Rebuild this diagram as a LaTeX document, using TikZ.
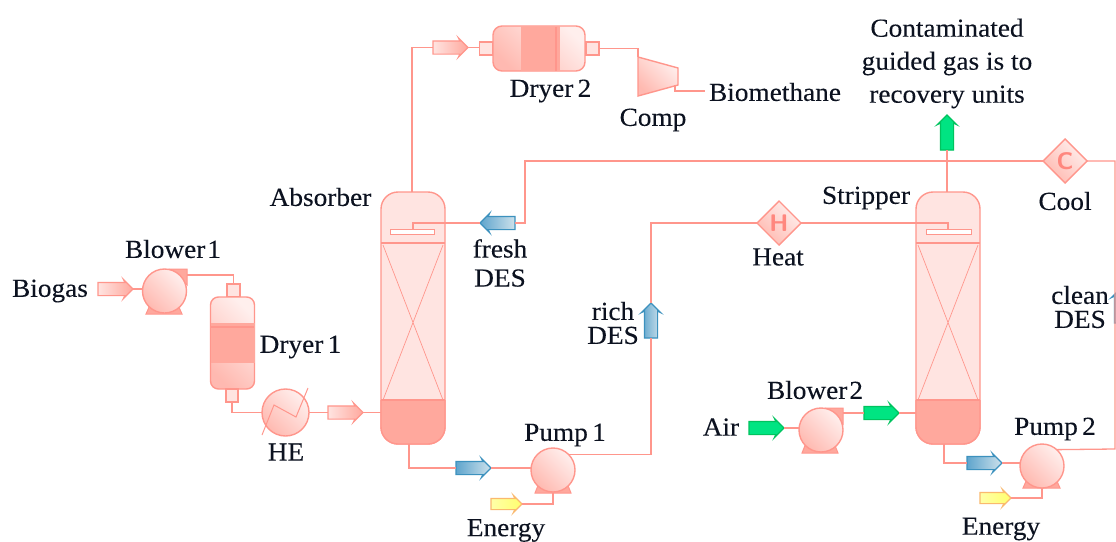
\documentclass[tikz,border=0pt]{standalone}
\usepackage{fontspec}
\setmainfont[FakeStretch=1.05,FakeBold=0.15]{Liberation Serif}
\usetikzlibrary{shapes.geometric,shapes.arrows}
\definecolor{pipepink}{RGB}{255,150,140}
\definecolor{salmon}{RGB}{255,168,157}
\definecolor{palepink}{RGB}{255,228,225}
\definecolor{inkdark}{RGB}{12,18,32}
\definecolor{desedge}{RGB}{60,145,190}
\definecolor{desdark}{RGB}{95,165,205}
\definecolor{deslight}{RGB}{205,225,235}
\definecolor{airedge}{RGB}{0,195,95}
\definecolor{airfill}{RGB}{0,228,130}
\definecolor{poweredge}{RGB}{250,185,110}
\definecolor{powerfill}{RGB}{255,255,110}
\tikzset{
  pipe/.style={draw=pipepink,line width=1.3pt,line join=miter},
  equip/.style={draw=pipepink,line width=1.4pt,left color=palepink!60!white,right color=salmon!80!white,shading angle=-45,inner sep=0pt,outer sep=0pt},
  pumpbody/.style={equip,circle,minimum size=44pt},
  nozzle/.style={draw=pipepink,line width=1.2pt,fill=palepink,inner sep=0pt,outer sep=0pt},
  tower/.style={draw=pipepink,line width=1.4pt,fill=palepink,rounded corners=17pt,minimum width=64pt,minimum height=252pt,inner sep=0pt,outer sep=0pt},
  cooler/.style={equip,diamond,aspect=1,minimum size=44pt,text=pipepink!90!red,font=\sffamily\bfseries\fontsize{24}{25}\selectfont},
  stream/.style={single arrow,anchor=tail,minimum height=35pt,inner sep=6pt,single arrow head extend=3pt,single arrow head indent=1.5pt,outer sep=0pt,line width=1.2pt},
  gasstream/.style={stream,draw=pipepink,left color=palepink,right color=salmon},
  desstream/.style={stream,draw=desedge,left color=desdark,right color=deslight},
  airstream/.style={stream,draw=airedge,fill=airfill},
  powerstream/.style={stream,minimum height=31pt,inner sep=5pt,draw=poweredge,left color=powerfill!60!white,right color=powerfill},
  tag/.style={inner sep=0pt,outer sep=0pt,text=inkdark,font=\fontsize{26}{30}\selectfont,align=center}
}
\begin{document}
\begin{tikzpicture}[x=1pt,y=-1pt]
\clip (0,0) rectangle (1116,541);
\path[fill=white] (0,0) rectangle (1116,541);
\node[tag] (biogasTag) at (50,291) {Biogas};
\node[gasstream] (biogasIn) at (98,289) {};
\path[fill=salmon,draw=pipepink,line width=1pt] (150,305) -- (146,314) -- (182,314) -- (178,305) -- cycle;
\path[fill=salmon,draw=pipepink,line width=1pt] (170,269) -- (187,269) -- (187,285) -- cycle;
\node[pumpbody] (blowerA) at (164.5,291) {};
\node[tag] (blowerATag) at (173,249) {Blower\hspace{2pt}1};
\node[nozzle,minimum width=13pt,minimum height=13pt] (dryerAin) at (233.5,290.5) {};
\node[equip,rounded corners=8pt,minimum width=44pt,minimum height=92pt] (dryerA) at (232.5,343) {};
\path[fill=salmon,draw=salmon,line width=.8pt] (211,323.5) rectangle (254,362);
\draw[pipe] (211,327) -- (254,327);
\node[nozzle,minimum width=12pt,minimum height=13pt] (dryerAout) at (232,395.5) {};
\node[tag] (dryerATag) at (300.5,347) {Dryer\,1};
\node[pumpbody,minimum size=47pt] (exchanger) at (285.5,412.5) {};
\draw[pipe,line width=1pt] (262,435) -- (274,405) -- (296,417) -- (308,388);
\node[tag] (exchangerTag) at (286,452) {HE};
\node[gasstream] (feedIn) at (328,412.5) {};
\node[tower] (absorber) at (413,318) {};
\draw[pipe] (381,243) -- (445,243);
\draw[pipe,line width=.7pt] (383,245) -- (443,400) (443,245) -- (383,400);
\path[fill=salmon,draw=pipepink,line width=1.4pt,rounded corners=17pt] (381,400) -- (381,444) -- (445,444) -- (445,400);
\draw[pipe] (381,400) -- (445,400);
\path[fill=white,draw=pipepink,line width=1pt] (390,229) rectangle (434,234);
\node[tag] (absorberTag) at (320.5,197) {Absorber};
\node[desstream,shape border rotate=180] (freshDes) at (515,223) {};
\node[tag] (freshTag) at (500,263) {fresh\\[-1pt]DES};
\node[desstream] (absorberBot) at (456,468) {};
\path[fill=salmon,draw=pipepink,line width=1pt] (539,483) -- (535,493) -- (571,493) -- (567,483) -- cycle;
\node[pumpbody] (pumpA) at (553,470) {};
\node[tag] (pumpATag) at (565,435) {Pump\,1};
\node[powerstream] (powerA) at (491,504) {};
\node[tag] (powerATag) at (506,530.5) {Energy};
\node[desstream,shape border rotate=90] (richDes) at (651,338) {};
\node[tag] (richTag) at (613,323) {rich\\[-6pt]DES};
\node[gasstream] (overhead) at (433,47.5) {};
\node[nozzle,minimum width=13pt,minimum height=13pt] (dryerBin) at (486,48.5) {};
\node[equip,rounded corners=9pt,minimum width=92pt,minimum height=45pt] (dryerB) at (539,48.5) {};
\path[fill=salmon,draw=salmon,line width=.8pt] (521,26.5) rectangle (559,70.5);
\draw[pipe] (556,26.5) -- (556,70.5);
\node[nozzle,minimum width=13pt,minimum height=13pt] (dryerBout) at (592.5,48.5) {};
\node[tag] (dryerBTag) at (550.5,91) {Dryer\,2};
\coordinate (compIn) at (638,57);
\coordinate (compOut) at (675,85);
\coordinate (methaneIn) at (705,91);
\path[equip] (638,57) -- (678,68) -- (678,85) -- (638,96) -- cycle;
\node[tag] (compTag) at (653,120) {Comp};
\node[tag] (methaneTag) at (775,92) {Biomethane};
\node[cooler] (heater) at (779,223) {H};
\node[tag] (heaterTag) at (778,257) {Heat};
\node[cooler] (coolerC) at (1065,161) {C};
\node[tag] (coolerTag) at (1065,201) {Cool};
\node[tower] (stripper) at (948,318) {};
\draw[pipe] (916,243) -- (980,243);
\draw[pipe,line width=.7pt] (918,245) -- (978,400) (978,245) -- (918,400);
\path[fill=salmon,draw=pipepink,line width=1.4pt,rounded corners=17pt] (916,400) -- (916,444) -- (980,444) -- (980,400);
\draw[pipe] (916,400) -- (980,400);
\path[fill=white,draw=pipepink,line width=1pt] (926,229) rectangle (971,234);
\node[tag] (stripperTag) at (866,198) {Stripper};
\node[airstream,shape border rotate=90] (ventOut) at (947,150) {};
\node[tag] (ventTag) at (947,63.5) {Contaminated\\[3pt]guided gas is to\\[3pt]recovery units};
\node[tag] (airTag) at (721,427) {Air};
\node[airstream] (airIn) at (749,428) {};
\path[fill=salmon,draw=pipepink,line width=1pt] (806,443) -- (802,453) -- (838,453) -- (834,443) -- cycle;
\path[fill=salmon,draw=pipepink,line width=1pt] (826,408) -- (843,408) -- (843,424) -- cycle;
\node[pumpbody] (blowerB) at (821,430) {};
\node[tag] (blowerBTag) at (815,390) {Blower\hspace{2pt}2};
\node[airstream] (airOut) at (864,413) {};
\node[desstream] (stripperBot) at (967,463) {};
\path[fill=salmon,draw=pipepink,line width=1pt] (1027,479) -- (1023,488) -- (1060,488) -- (1056,479) -- cycle;
\node[pumpbody] (pumpB) at (1042,466) {};
\node[tag] (pumpBTag) at (1055,429) {Pump\,2};
\node[powerstream] (powerB) at (980,498) {};
\node[tag] (powerBTag) at (1001,529) {Energy};
\node[desstream,shape border rotate=90] (cleanDes) at (1121,323) {};
\node[tag] (cleanTag) at (1080,307) {clean\\[-6pt]DES};
\coordinate (blowerAout) at (187,275);
\coordinate (blowerBout) at (843,413);
\coordinate (absorberTop) at (412,192);
\coordinate (absorberOut) at (409,444);
\coordinate (stripperOut) at (944,444);
\coordinate (absorberDrop) at (413,229);
\coordinate (stripperDrop) at (948,229);
\coordinate (cleanTop) at (1115,161);
\coordinate (cleanBot) at (1115,449);
\draw[pipe] (biogasIn.tip) -- (biogasIn.tip -| blowerA.west);
\draw[pipe] (blowerAout) -| (dryerAin.north);
\draw[pipe] (dryerA.south -| dryerAout) -- (dryerAout.north);
\draw[pipe] (dryerAout.south) |- (exchanger.west);
\draw[pipe] (exchanger.east) -- (feedIn.tail);
\draw[pipe] (feedIn.tip) -- (feedIn.tip -| absorber.west);
\draw[pipe] (absorberTop) |- (overhead.tail);
\draw[pipe] (overhead.tip) -- (overhead.tip -| dryerBin.west);
\draw[pipe] (dryerBout.east) -- (dryerBout.east -| compIn) -- (compIn);
\draw[pipe] (compOut) |- (methaneIn);
\draw[pipe] (coolerC.west) -| (525,223) -- (freshDes.tail);
\draw[pipe] (freshDes.tip) -| (absorberDrop);
\draw[pipe] (absorberOut) |- (absorberBot.tail);
\draw[pipe] (absorberBot.tip) -- (absorberBot.tip -| pumpA.west);
\draw[pipe] (pumpA.46) -| (richDes.tail);
\draw[pipe] (richDes.tip) |- (heater.west);
\draw[pipe] (heater.east) -| (stripperDrop);
\draw[pipe] (powerA.tip) -| (pumpA.south |- 0,493);
\draw[pipe] (stripper.north -| ventOut) -- (ventOut.tail);
\draw[pipe] (airIn.tip) -- (airIn.tip -| blowerB.west);
\draw[pipe] (blowerBout) -- (airOut.tail);
\draw[pipe] (airOut.tip) -- (airOut.tip -| stripper.west);
\draw[pipe] (stripperOut) |- (stripperBot.tail);
\draw[pipe] (stripperBot.tip) -- (stripperBot.tip -| pumpB.west);
\draw[pipe] (powerB.tip) -| (pumpB.south |- 0,488);
\draw[pipe] (pumpB.48) -- (cleanBot) -- (cleanTop) -- (coolerC.east);
\end{tikzpicture}
\end{document}
